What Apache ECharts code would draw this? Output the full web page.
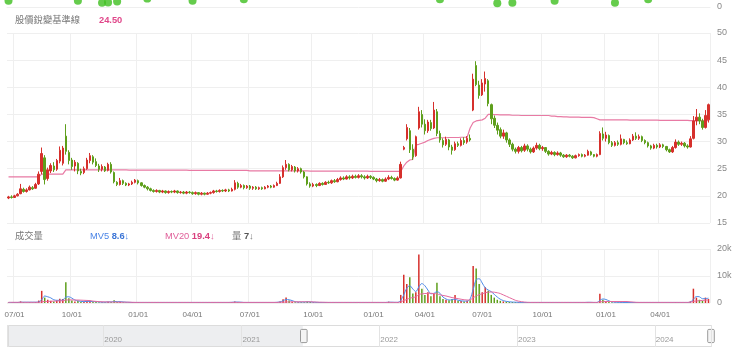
<!DOCTYPE html>
<html><head><meta charset="utf-8">
<script src="https://cdn.jsdelivr.net/npm/echarts@6/dist/echarts.min.js"></script>
<style>html,body{margin:0;padding:0;background:#fff}#c{width:740px;height:355px}</style>
</head><body><div id="c"></div>
<script>
// ---- tick labels (quarter starts) ----
const tickLabels = ['07/01','10/01','01/01','04/01','07/01','10/01','01/01','04/01','07/01','10/01','01/01','04/01'];
const tickIndex  = [2,21,43,61,80,101,121,138,157,177,198,216];

// ---- candles: [open, close, low, high] ----
const candles = [
[19.6,19.8,19.4,20.0],[19.8,19.7,19.5,20.1],[19.7,20.0,19.6,20.2],[20.0,20.3,19.9,20.5],[20.4,21.3,20.3,22.2],[21.2,20.8,20.6,21.5],[20.8,21.1,20.6,21.4],[21.1,21.6,21.0,21.9],[21.5,21.3,21.1,21.8],[21.4,22.1,21.3,22.4],
[22.2,24.0,22.0,24.5],[24.5,27.8,24.0,28.9],[27.0,23.0,22.1,27.5],[23.2,24.8,22.8,25.2],[24.6,25.6,24.2,26.0],[25.5,24.8,24.4,26.2],[24.9,26.5,24.6,26.8],[26.4,28.4,26.0,29.1],[26.0,28.8,25.6,29.2],[31.0,28.2,27.6,33.2],
[28.0,26.5,25.8,28.4],[26.6,25.4,24.8,27.0],[25.5,26.2,24.5,26.6],[26.0,24.6,24.0,26.2],[24.5,24.2,23.8,25.0],[24.3,25.0,24.0,25.4],[25.0,26.6,24.8,27.0],[26.5,27.4,26.0,27.9],[27.2,26.2,25.8,27.5],[26.3,25.6,25.3,26.9],
[25.5,24.9,24.4,25.9],[24.9,25.4,24.5,25.8],[25.3,24.6,24.4,25.5],[24.7,25.8,24.5,26.1],[25.8,24.4,24.1,26.2],[24.3,22.6,22.3,24.5],[22.5,22.1,21.8,22.7],[22.1,22.8,21.9,23.3],[22.8,22.3,22.0,23.0],[22.3,22.0,21.8,22.5],
[22.0,22.2,21.8,22.4],[22.2,22.5,22.0,22.8],[22.5,22.9,22.3,23.1],[22.8,22.4,22.1,23.0],[22.4,21.9,21.7,22.5],[21.9,21.6,21.4,22.1],[21.6,21.3,21.0,21.8],[21.3,21.0,20.8,21.5],[21.0,20.8,20.6,21.2],[20.8,21.0,20.6,21.2],
[21.0,20.7,20.5,21.1],[20.7,20.9,20.5,21.1],[20.9,20.6,20.4,21.0],[20.6,20.8,20.4,21.0],[20.8,20.7,20.5,21.0],[20.7,20.9,20.5,21.1],[20.9,20.6,20.4,21.0],[20.6,20.7,20.4,20.9],[20.7,20.5,20.3,20.9],[20.5,20.7,20.3,20.9],
[20.7,20.6,20.4,20.9],[20.6,20.4,20.2,20.8],[20.4,20.6,20.2,20.8],[20.6,20.3,20.1,20.7],[20.3,20.5,20.1,20.7],[20.5,20.3,20.1,20.6],[20.3,20.5,20.2,20.7],[20.5,20.6,20.3,20.8],[20.6,20.9,20.4,21.1],[20.9,20.8,20.6,21.1],
[20.8,21.0,20.6,21.2],[21.0,20.9,20.7,21.2],[20.9,21.1,20.7,21.3],[21.1,20.9,20.7,21.3],[20.9,21.2,20.8,21.5],[21.2,22.4,21.0,22.9],[22.3,21.6,21.3,22.6],[21.6,21.9,21.4,22.2],[21.9,21.5,21.2,22.1],[21.5,21.8,21.3,22.0],
[21.8,21.4,21.1,22.0],[21.4,21.6,21.1,21.8],[21.6,21.3,21.1,21.8],[21.3,21.5,21.1,21.7],[21.5,21.3,21.1,21.7],[21.3,21.6,21.2,21.8],[21.6,21.8,21.4,22.0],[21.8,21.6,21.4,22.0],[21.6,21.9,21.5,22.1],[21.9,22.3,21.8,22.6],
[22.3,23.5,22.2,24.0],[23.5,25.2,23.3,25.6],[25.2,25.8,24.8,26.6],[25.8,24.8,24.5,26.0],[24.8,25.4,24.5,25.7],[25.3,24.6,24.3,25.5],[24.6,25.0,24.3,25.3],[25.0,24.4,24.1,25.2],[24.4,23.5,23.2,24.6],[23.5,22.2,21.9,23.6],
[22.2,21.8,21.5,22.5],[21.8,22.1,21.6,22.4],[22.1,21.9,21.6,22.3],[21.9,22.3,21.8,22.5],[22.3,22.1,21.9,22.5],[22.1,22.5,22.0,22.7],[22.5,22.4,22.2,22.8],[22.4,22.8,22.2,23.0],[22.8,22.6,22.4,23.1],[22.6,23.0,22.5,23.3],
[23.0,23.3,22.8,23.6],[23.3,23.1,22.9,23.6],[23.1,23.5,23.0,23.8],[23.5,23.3,23.0,23.8],[23.3,23.6,23.1,23.9],[23.6,23.4,23.2,23.9],[23.4,23.7,23.2,24.0],[23.7,23.5,23.2,24.0],[23.5,23.3,23.0,23.8],[23.3,23.6,23.1,23.9],
[23.6,23.4,23.1,23.8],[23.4,23.1,22.9,23.6],[23.1,22.8,22.5,23.3],[22.8,23.0,22.6,23.3],[23.0,22.7,22.5,23.2],[22.7,23.1,22.6,23.4],[23.1,23.4,22.9,23.8],[23.4,23.2,23.0,23.7],[23.2,22.9,22.7,23.4],[22.9,23.3,22.8,23.6],
[23.3,25.8,23.2,26.3],[28.6,28.9,28.4,29.2],[30.5,32.6,30.2,33.2],[32.0,28.5,27.9,32.5],[28.6,27.2,26.6,29.5],[27.4,30.9,27.2,31.1],[32.5,35.5,32.2,36.4],[35.0,33.2,32.6,35.8],[33.2,32.0,31.3,34.1],[32.0,33.6,31.6,34.0],
[33.5,32.4,32.0,34.0],[32.5,35.8,32.3,37.3],[35.5,31.5,31.0,36.0],[31.5,30.3,29.8,32.0],[30.2,29.4,28.9,30.6],[29.5,30.4,29.2,30.9],[30.3,29.0,28.4,30.5],[29.0,28.4,27.6,29.4],[28.5,29.6,28.3,30.0],[29.6,29.3,29.0,30.0],
[29.3,30.2,29.1,30.6],[30.2,29.8,29.4,30.8],[29.9,30.6,29.6,31.0],[30.6,30.3,30.0,31.3],[35.8,41.5,35.6,42.5],[44.0,40.5,40.2,44.8],[40.4,38.5,37.9,41.2],[38.6,40.8,38.4,41.5],[40.6,41.6,39.2,42.9],[41.2,37.0,36.5,41.5],
[36.8,34.2,33.2,37.0],[34.3,33.0,32.5,34.8],[33.0,32.1,31.3,33.5],[32.2,31.0,30.6,32.6],[31.0,31.6,30.5,32.2],[31.6,30.3,29.8,31.8],[30.3,29.5,29.0,30.6],[29.5,28.6,28.2,29.8],[28.6,28.2,27.8,28.9],[28.2,28.9,27.8,29.2],
[28.9,28.3,28.0,29.2],[28.4,29.2,28.1,29.6],[29.2,28.6,28.2,29.5],[28.6,28.1,27.8,28.9],[28.1,28.8,27.9,29.1],[28.8,29.3,28.5,29.8],[29.3,28.7,28.4,29.6],[28.7,28.9,28.3,29.2],[28.9,28.2,27.9,29.0],[28.2,27.7,27.4,28.4],
[27.7,28.0,27.5,28.3],[28.0,27.6,27.3,28.2],[27.6,27.9,27.4,28.2],[27.9,27.5,27.2,28.1],[27.5,27.2,27.0,27.7],[27.2,27.5,27.0,27.7],[27.5,27.3,27.1,27.7],[27.3,27.0,26.8,27.5],[27.0,27.4,26.9,27.6],[27.4,27.6,27.2,27.8],
[27.6,27.3,27.1,27.8],[27.3,27.5,27.1,27.7],[27.5,28.2,27.4,28.5],[28.1,27.6,27.4,28.3],[27.6,27.3,27.1,27.7],[27.3,27.6,27.1,27.8],[27.6,31.5,27.5,31.9],[31.4,30.6,30.2,32.6],[30.6,31.2,30.0,31.8],[31.1,29.8,29.5,31.3],
[29.8,29.3,29.0,30.1],[29.3,29.8,29.1,30.1],[29.8,29.5,29.2,30.2],[29.5,30.5,29.3,31.3],[30.4,29.8,29.5,30.5],[29.8,29.6,29.4,30.2],[29.6,30.3,29.5,30.6],[30.3,31.0,30.1,31.4],[31.0,30.6,30.3,31.7],[30.6,30.9,30.3,31.3],
[30.9,30.2,29.9,31.1],[30.2,29.8,29.5,30.4],[29.8,29.2,28.9,30.0],[29.2,28.8,28.5,29.4],[28.8,29.3,28.6,29.6],[29.3,29.0,28.7,29.6],[29.0,29.4,28.8,29.7],[29.4,29.1,28.8,29.6],[29.1,28.5,28.2,29.2],[28.5,28.1,27.9,28.7],
[28.1,28.9,27.9,29.2],[28.9,29.9,28.7,30.4],[29.9,29.5,29.2,30.2],[29.5,29.7,29.2,30.0],[29.7,29.2,28.9,29.9],[29.2,29.0,28.7,29.5],[29.0,30.5,28.9,31.0],[30.6,33.8,30.4,34.7],[33.8,34.5,33.0,36.0],[34.5,33.8,33.2,35.2],
[33.8,32.6,32.2,34.2],[32.6,34.8,32.4,35.8],[34.0,36.8,33.5,37.0]
];

// ---- 股價銳變基準線 ----
const base = [
23.5,23.5,23.5,23.5,23.5,23.5,23.5,23.5,23.5,23.5,
23.5,24.0,24.0,24.0,24.0,24.0,24.0,24.0,24.0,24.8,
24.8,24.8,24.8,24.8,24.8,24.8,24.8,24.8,24.8,24.8,
24.8,24.8,24.8,24.8,24.8,24.8,24.8,24.8,24.8,24.8,
24.75,24.75,24.75,24.75,24.75,24.75,24.75,24.75,24.75,24.75,
24.75,24.75,24.75,24.75,24.75,24.75,24.75,24.75,24.75,24.75,
24.7,24.7,24.7,24.7,24.7,24.7,24.7,24.7,24.7,24.7,
24.7,24.7,24.7,24.7,24.7,24.7,24.7,24.7,24.7,24.7,
24.6,24.6,24.6,24.6,24.6,24.6,24.6,24.6,24.6,24.6,
24.6,24.6,24.6,24.6,24.6,24.6,24.6,24.6,24.6,24.6,
24.55,24.55,24.55,24.55,24.55,24.55,24.55,24.55,24.55,24.55,
24.55,24.55,24.55,24.55,24.55,24.55,24.55,24.55,24.55,24.55,
24.5,24.5,24.5,24.5,24.5,24.5,24.5,24.5,24.5,24.5,
24.5,25.5,26.2,26.6,26.7,29.4,29.5,29.7,29.9,30.2,
30.4,30.6,30.7,30.7,30.7,30.7,30.75,30.75,30.75,30.75,
30.8,30.8,30.8,32.5,33.5,33.8,33.9,34.0,34.3,35.0,
35.0,34.95,34.95,34.9,34.9,34.9,34.9,34.85,34.85,34.85,
34.8,34.8,34.8,34.8,34.8,34.8,34.8,34.8,34.8,34.8,
34.7,34.7,34.6,34.6,34.55,34.55,34.5,34.5,34.5,34.5,
34.45,34.45,34.45,34.45,34.4,34.2,34.0,34.0,34.0,34.0,
34.0,34.0,34.0,34.0,34.0,34.0,33.95,33.95,33.95,33.95,
33.95,33.95,33.95,33.95,33.95,33.95,33.9,33.9,33.9,33.9,
33.9,33.9,33.9,33.9,33.9,33.9,33.85,33.85,33.85,33.85,
33.85,33.85,33.85
];

// ---- 成交量 (thousands) ----
const vol = [
0.2,0.15,0.2,0.25,0.6,0.3,0.2,0.25,0.2,0.3,
0.9,4.5,2.0,1.2,0.8,0.6,0.9,1.6,1.5,7.7,
1.8,0.9,0.6,0.7,0.4,0.4,0.7,0.8,0.5,0.4,
0.3,0.3,0.25,0.5,0.4,1.0,0.4,0.5,0.3,0.2,
0.2,0.25,0.2,0.3,0.2,0.15,0.2,0.2,0.15,0.2,
0.15,0.2,0.15,0.15,0.2,0.15,0.15,0.2,0.15,0.15,
0.2,0.15,0.15,0.2,0.15,0.15,0.2,0.15,0.2,0.15,
0.15,0.2,0.15,0.2,0.25,0.6,0.3,0.2,0.15,0.15,
0.2,0.15,0.15,0.2,0.15,0.15,0.2,0.15,0.2,0.3,
0.6,1.4,2.0,0.9,0.5,0.3,0.3,0.3,0.3,0.6,
0.4,0.3,0.2,0.2,0.15,0.2,0.2,0.15,0.2,0.2,
0.2,0.15,0.2,0.2,0.15,0.2,0.2,0.15,0.2,0.2,
0.15,0.2,0.2,0.15,0.2,0.2,0.5,0.2,0.2,0.3,
3.0,10.5,7.0,9.5,3.5,4.0,18.0,5.3,3.0,4.0,
2.5,3.5,7.5,2.5,1.5,1.2,1.0,1.5,3.0,0.8,
0.7,0.6,0.8,1.0,13.7,12.8,7.0,4.0,5.8,4.5,
3.0,2.0,1.2,0.8,0.6,0.5,0.4,0.35,0.3,0.25,
0.2,0.2,0.25,0.2,0.2,0.2,0.25,0.2,0.2,0.2,
0.2,0.15,0.2,0.2,0.15,0.2,0.2,0.15,0.2,0.2,
0.15,0.2,0.3,0.2,0.15,0.2,3.4,1.2,0.6,0.4,
0.3,0.2,0.2,0.3,0.2,0.2,0.2,0.25,0.2,0.2,
0.2,0.2,0.2,0.15,0.2,0.2,0.2,0.15,0.2,0.2,
0.2,0.3,0.2,0.2,0.2,0.2,0.6,5.3,2.0,1.2,
0.8,2.0,1.5
];

// ---- MV5 (thousands) ----
const mv5 = [
0.2,0.2,0.2,0.2,0.3,0.3,0.3,0.3,0.3,0.3,
0.4,1.2,2.6,2.3,1.9,1.2,1.0,1.0,1.1,2.2,
2.3,1.8,1.1,0.8,0.6,0.5,0.6,0.6,0.5,0.5,
0.4,0.3,0.3,0.4,0.4,0.6,0.5,0.5,0.4,0.3,
0.25,0.2,0.2,0.2,0.2,0.2,0.2,0.2,0.2,0.2,
0.2,0.2,0.2,0.2,0.2,0.2,0.2,0.2,0.2,0.2,
0.2,0.2,0.2,0.2,0.2,0.2,0.2,0.2,0.2,0.2,
0.2,0.2,0.2,0.2,0.25,0.35,0.35,0.3,0.2,0.2,
0.2,0.2,0.2,0.2,0.2,0.2,0.2,0.2,0.2,0.25,
0.4,0.8,1.3,1.2,0.9,0.5,0.35,0.35,0.35,0.4,
0.4,0.3,0.25,0.2,0.2,0.2,0.2,0.2,0.2,0.2,
0.2,0.2,0.2,0.2,0.2,0.2,0.2,0.2,0.2,0.2,
0.2,0.2,0.2,0.2,0.2,0.2,0.3,0.3,0.25,0.25,
1.0,3.0,5.5,6.4,5.2,4.2,6.0,7.2,6.4,4.8,
3.4,3.6,4.2,3.6,2.2,1.5,1.1,1.2,1.4,1.0,
0.8,0.7,0.7,1.5,5.0,8.6,9.0,7.4,5.6,4.8,
4.2,3.2,2.2,1.4,0.9,0.6,0.45,0.35,0.3,0.25,
0.2,0.2,0.2,0.2,0.2,0.2,0.2,0.2,0.2,0.2,
0.2,0.2,0.2,0.2,0.2,0.2,0.2,0.2,0.2,0.2,
0.2,0.2,0.25,0.25,0.2,0.2,1.0,1.5,1.3,0.8,
0.4,0.3,0.25,0.25,0.2,0.2,0.2,0.2,0.2,0.2,
0.2,0.2,0.2,0.2,0.2,0.2,0.2,0.2,0.2,0.2,
0.2,0.2,0.2,0.2,0.2,0.2,0.3,1.4,2.4,2.3,
1.6,1.6,1.8
];

// ---- MV20 (thousands) ----
const mv20 = [
0.25,0.25,0.25,0.25,0.25,0.25,0.25,0.25,0.25,0.25,
0.25,0.45,0.55,0.6,0.65,0.7,0.75,0.8,0.85,1.1,
1.15,1.15,1.1,1.1,1.05,1.0,0.95,0.9,0.7,0.6,
0.5,0.45,0.4,0.4,0.35,0.35,0.3,0.3,0.3,0.3,
0.3,0.25,0.22,0.22,0.22,0.22,0.22,0.22,0.22,0.22,
0.22,0.22,0.22,0.22,0.22,0.22,0.22,0.22,0.22,0.22,
0.22,0.22,0.22,0.22,0.22,0.22,0.22,0.22,0.22,0.22,
0.22,0.22,0.22,0.22,0.22,0.22,0.22,0.22,0.22,0.22,
0.22,0.22,0.22,0.22,0.22,0.22,0.22,0.22,0.22,0.22,
0.3,0.3,0.35,0.4,0.45,0.45,0.45,0.45,0.45,0.45,
0.45,0.4,0.35,0.3,0.28,0.25,0.22,0.22,0.22,0.22,
0.22,0.22,0.22,0.22,0.22,0.22,0.22,0.22,0.22,0.22,
0.22,0.22,0.22,0.22,0.22,0.22,0.22,0.22,0.22,0.22,
0.4,0.9,1.3,1.8,2.0,2.3,3.1,3.4,3.5,3.6,
3.6,3.5,3.4,3.0,2.8,2.6,2.3,2.0,1.8,1.6,
1.4,1.2,1.1,1.2,1.9,2.6,3.1,3.4,3.8,4.0,
4.1,4.0,3.8,3.5,3.0,2.5,2.0,1.5,1.0,0.7,
0.5,0.35,0.25,0.22,0.22,0.22,0.22,0.22,0.22,0.22,
0.22,0.22,0.22,0.22,0.22,0.22,0.22,0.22,0.22,0.22,
0.22,0.22,0.22,0.22,0.22,0.22,0.4,0.5,0.55,0.55,
0.55,0.55,0.55,0.55,0.55,0.55,0.45,0.35,0.25,0.22,
0.22,0.22,0.22,0.22,0.22,0.22,0.22,0.22,0.22,0.22,
0.22,0.22,0.22,0.22,0.22,0.22,0.3,0.6,0.75,0.85,
0.95,1.05,1.1
];

// ---- top strip indicator blobs: [candle index, value] ----
const topBlobs = [[0,9],[23,9],[31,6],[33,6.5],[36,8],[46,12],[61,9],[78,11],[143,11],[162,5.5],[167,6],[181,9],[201,6],[212,11]];

// ---- slider (overview) range ----
const overviewRange = ['2019-04-21','2024-05-29'];
const windowRange   = ['2021-06-10','2024-05-29'];

// ---- build ----
const N = candles.length;
[base, vol, mv5, mv20].forEach((a,k)=>{ if(a.length!==N) throw new Error('array '+k+' length '+a.length+' != '+N); });
const cats = candles.map((_,i)=>{ const k=tickIndex.indexOf(i); return (k>=0?tickLabels[k]:'')+'#'+i; });
const isTick = (i)=> tickIndex.indexOf(i)>=0;
const UP='#d6302c', DOWN='#5e9f1c';
const FONT="'Liberation Sans','Noto Sans CJK TC',sans-serif";
const volData = vol.map((v,i)=>({value:v,itemStyle:{color:candles[i][1]>=candles[i][0]?UP:DOWN}}));
const t = s=>new Date(s+'T00:00:00').getTime();
const YEAR = 365*24*3600*1000;
const GRID_L=7, GRID_R=30;
const splitC='#efefef';

const chart = echarts.init(document.getElementById('c'), null, {renderer:'canvas'});
chart.setOption({
  animation:false,
  backgroundColor:'#fff',
  textStyle:{fontFamily:FONT},
  grid:[
    {left:GRID_L,right:GRID_R,top:33,height:190},
    {left:GRID_L,right:GRID_R,top:249,height:54},
    {left:GRID_L,right:GRID_R,top:0,height:7},
    {left:GRID_L,right:29,top:325,height:22}
  ],
  xAxis:[
    {type:'category',gridIndex:0,data:cats,boundaryGap:true,axisLine:{show:false},axisTick:{show:false},axisLabel:{show:false},
     splitLine:{show:true,interval:(i)=>isTick(i),lineStyle:{color:splitC}}},
    {type:'category',gridIndex:1,data:cats,boundaryGap:true,axisLine:{show:false},axisTick:{show:false},
     axisLabel:{show:true,interval:(i)=>isTick(i),formatter:(v)=>v.split('#')[0],color:'#777',fontSize:8,margin:8,fontFamily:FONT},
     splitLine:{show:true,interval:(i)=>isTick(i),lineStyle:{color:splitC}}},
    {type:'category',gridIndex:2,data:cats,boundaryGap:true,axisLine:{show:true,lineStyle:{color:splitC}},axisTick:{show:false},axisLabel:{show:false},splitLine:{show:false}},
    {type:'time',gridIndex:3,min:t(overviewRange[0]),max:t(overviewRange[1]),z:10,minInterval:YEAR,maxInterval:YEAR,
     axisLine:{show:false},axisTick:{show:false},
     splitLine:{show:true,lineStyle:{color:'#e3e3e3'}},
     axisLabel:{inside:true,formatter:'{yyyy}',align:'left',margin:3,padding:[0,0,0,1],color:'#999',fontSize:8,fontFamily:FONT,showMinLabel:false,showMaxLabel:false}},
    {type:'time',gridIndex:3,show:false,min:t(overviewRange[0]),max:t(overviewRange[1])}
  ],
  yAxis:[
    {type:'value',gridIndex:0,position:'right',min:15,max:50,interval:5,axisLine:{show:false},axisTick:{show:false},
     axisLabel:{color:'#888',fontSize:9,margin:7,fontFamily:FONT},splitLine:{lineStyle:{color:splitC}}},
    {type:'value',gridIndex:1,position:'right',min:0,max:20,interval:10,axisLine:{show:false},axisTick:{show:false},
     axisLabel:{color:'#888',fontSize:9,margin:7,fontFamily:FONT,formatter:(v)=>v===0?'0':v+'k'},splitLine:{lineStyle:{color:splitC}}},
    {type:'value',gridIndex:2,position:'right',min:0,max:10,interval:10,axisLine:{show:false},axisTick:{show:false},
     axisLabel:{color:'#888',fontSize:9,margin:7,fontFamily:FONT,formatter:(v)=>v===0?'0':''},splitLine:{show:false}},
    {type:'value',gridIndex:3,show:false,min:0,max:1}
  ],
  dataZoom:[{
    type:'slider',xAxisIndex:4,filterMode:'none',
    startValue:t(windowRange[0]),endValue:t(windowRange[1]),
    left:GRID_L,right:29,top:325,height:22,
    showDetail:false,showDataShadow:false,brushSelect:false,moveHandleSize:0,
    backgroundColor:'#edeef0',fillerColor:'#ffffff',borderColor:'#dcdcdc',
    handleIcon:'path://M1,0H5A1,1,0,0,1,6,1V11A1,1,0,0,1,5,12H1A1,1,0,0,1,0,11V1A1,1,0,0,1,1,0Z',
    handleSize:'60%',handleStyle:{color:'#f4f4f4',borderColor:'#9a9a9a',borderWidth:1}
  }],
  graphic:[
    {type:'text',x:15,y:20,style:{text:'股價銳變基準線',fill:'#777',fontSize:9.3,fontFamily:FONT,verticalAlign:'middle'}},
    {type:'text',x:99,y:20,style:{text:'24.50',fill:'#e0478a',fontSize:9.3,fontWeight:'bold',fontFamily:FONT,verticalAlign:'middle'}},
    {type:'text',x:15,y:236,style:{text:'成交量',fill:'#777',fontSize:9.3,fontFamily:FONT,verticalAlign:'middle'}},
    {type:'text',x:90,y:236,style:{text:'{a|MV5 }{b|8.6}{a|↓}',fontSize:9.3,fontFamily:FONT,verticalAlign:'middle',
      rich:{a:{fill:'#4a84e6',fontSize:9.3,fontFamily:FONT},b:{fill:'#3a74d6',fontSize:9.3,fontWeight:'bold',fontFamily:FONT}}}},
    {type:'text',x:165,y:236,style:{text:'{a|MV20 }{b|19.4}{a|↓}',fontSize:9.3,fontFamily:FONT,verticalAlign:'middle',
      rich:{a:{fill:'#e0609a',fontSize:9.3,fontFamily:FONT},b:{fill:'#d9407e',fontSize:9.3,fontWeight:'bold',fontFamily:FONT}}}},
    {type:'text',x:232,y:236,style:{text:'{a|量 }{b|7}{a|↓}',fontSize:9.3,fontFamily:FONT,verticalAlign:'middle',
      rich:{a:{fill:'#777',fontSize:9.3,fontFamily:FONT},b:{fill:'#555',fontSize:9.3,fontWeight:'bold',fontFamily:FONT}}}}
  ],
  series:[
    {type:'line',name:'股價銳變基準線',xAxisIndex:0,yAxisIndex:0,data:base,symbol:'none',z:2,
     lineStyle:{color:'#e87aa4',width:1.2}},
    {type:'candlestick',xAxisIndex:0,yAxisIndex:0,data:candles,barWidth:2,z:3,
     itemStyle:{color:UP,color0:DOWN,borderColor:UP,borderColor0:DOWN,borderWidth:1}},
    {type:'bar',name:'量',xAxisIndex:1,yAxisIndex:1,data:volData,barWidth:1.5,z:2},
    {type:'line',name:'MV5',xAxisIndex:1,yAxisIndex:1,data:mv5,symbol:'none',smooth:0.3,z:3,lineStyle:{color:'#4d8ae8',width:1}},
    {type:'line',name:'MV20',xAxisIndex:1,yAxisIndex:1,data:mv20,symbol:'none',smooth:0.3,z:3,lineStyle:{color:'#e46a9e',width:1}},
    {type:'scatter',xAxisIndex:2,yAxisIndex:2,data:topBlobs,symbolSize:8,itemStyle:{color:'#3fbf1f'},clip:false},
    {type:'line',xAxisIndex:4,yAxisIndex:3,data:[[t(overviewRange[0]),0],[t(overviewRange[1]),0]],symbol:'none',silent:true,lineStyle:{opacity:0}}
  ]
});
</script></body></html>
